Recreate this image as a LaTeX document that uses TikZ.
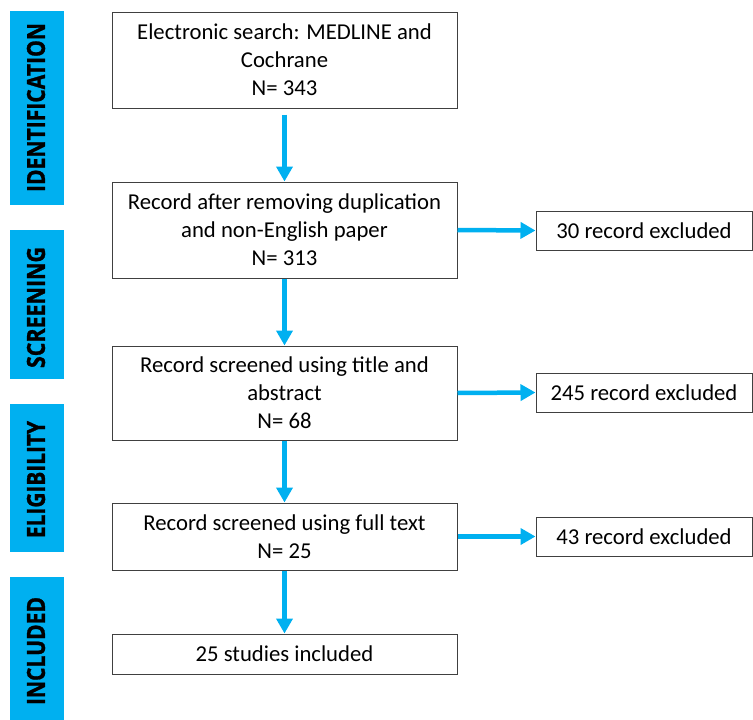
\documentclass[tikz,border=0pt]{standalone}
\usepackage{fontspec}
\usepackage{graphicx}
\setmainfont{Carlito}
\newfontfamily\labfont{Open Sans}[BoldFeatures={FakeBold=1.2}]
\usetikzlibrary{arrows.meta}
\definecolor{cyanbar}{HTML}{00B0F0}
\definecolor{boxline}{HTML}{404040}
\tikzset{
  flowbox/.style={draw=boxline, line width=1pt, fill=white, align=center,
    font=\fontsize{22.7}{28}\selectfont, inner sep=0pt, minimum width=345pt},
  exbox/.style={draw=boxline, line width=1pt, fill=white, align=center,
    font=\fontsize{22.7}{28}\selectfont, inner sep=0pt, minimum width=216pt, minimum height=39pt},
  phasebar/.style={fill=cyanbar, draw=none, inner sep=0pt, minimum width=54pt},
  phasetext/.style={rotate=90, font=\labfont\bfseries\fontsize{25}{25}\selectfont, inner sep=0pt},
  flowarrow/.style={draw=cyanbar, line width=4.5pt, -{Triangle[length=15pt,width=16pt]}},
}
\begin{document}
\begin{tikzpicture}[x=1pt,y=-1pt]
\useasboundingbox (0,0) rectangle (753,720);
% phase bars
\node[phasebar, minimum height=194pt] (pid) at (37,108) {};
\node[phasebar, minimum height=149pt] (psc) at (37,304.5) {};
\node[phasebar, minimum height=148pt] (pel) at (37,478) {};
\node[phasebar, minimum height=143pt] (pin) at (37,648.5) {};
\node[phasetext] (tid) at (36,107.5) {\resizebox{169pt}{18pt}{IDENTIFICATION}};
\node[phasetext] (tsc) at (36,307.5) {\resizebox{121pt}{18pt}{SCREENING}};
\node[phasetext] (tel) at (36,479.5) {\resizebox{117pt}{18pt}{ELIGIBILITY}};
\node[phasetext] (tin) at (36,651) {\resizebox{108pt}{18pt}{INCLUDED}};
% main boxes
\node[flowbox, minimum height=96pt] (b1) at (284.5,60) {Electronic search: MEDLINE and\\Cochrane\\N= 343};
\node[flowbox, minimum height=96pt] (b2) at (284.5,230) {Record after removing duplication\\and non-English paper\\N= 313};
\node[flowbox, minimum height=94pt] (b3) at (284.5,393) {Record screened using title and\\abstract\\N= 68};
\node[flowbox, minimum height=67pt] (b4) at (284.5,536.5) {Record screened using full text\\N= 25};
\node[flowbox, minimum height=40pt] (b5) at (284.5,654) {25 studies included};
% excluded boxes
\node[exbox] (e1) at (644,230.5) {30 record excluded};
\node[exbox] (e2) at (644,392.5) {245 record excluded};
\node[exbox] (e3) at (644,536.5) {43 record excluded};
% arrows
\draw[flowarrow, shorten <=6pt] (b1.south) -- (b2.north);
\draw[flowarrow] (b2.south) -- (b3.north);
\draw[flowarrow] (b3.south) -- (b4.north);
\draw[flowarrow] (b4.south) -- (b5.north);
\draw[flowarrow] (b2.east) -- (e1.west);
\draw[flowarrow] (b3.east) -- (e2.west);
\draw[flowarrow] (b4.east) -- (e3.west);
\end{tikzpicture}
\end{document}
